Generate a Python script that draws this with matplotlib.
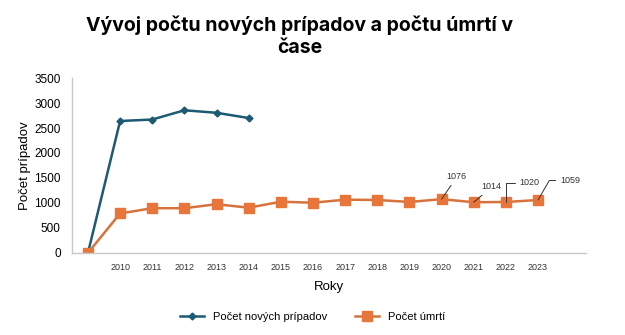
import matplotlib
matplotlib.use("Agg")
import matplotlib.pyplot as plt
import numpy as np

plt.rcParams['font.family'] = ['Liberation Sans', 'DejaVu Sans']

# categories (first and last slot are empty in the original chart)
years = ["", "2010", "2011", "2012", "2013", "2014", "2015", "2016", "2017",
         "2018", "2019", "2020", "2021", "2022", "2023", ""]
new_cases = [0, 2640, 2670, 2855, 2805, 2700]
deaths = [0, 790, 895, 895, 975, 905, 1025, 1005, 1066, 1060, 1020,
          1076, 1014, 1020, 1059]
# labelled points: index -> (text offset in points, leader style)
labelled = {11: ((11, 16), "arc3"),
            12: ((13, 11), "arc3"),
            13: ((17, 14), "angle,angleA=0,angleB=90,rad=0"),
            14: ((23, 14), "angle,angleA=0,angleB=60,rad=0")}

blue = "#1d5a73"
orange = "#e8763b"

fig = plt.figure(figsize=(6.25, 3.35), dpi=100)
ax = fig.add_axes([0.115, 0.245, 0.823, 0.522])

x = np.arange(len(years))
ax.plot(x[:len(new_cases)], new_cases, color=blue, marker="D", markersize=3.5,
        linewidth=1.8, label="Počet nových prípadov")
ax.plot(x[:len(deaths)], deaths, color="#d8723c", marker="s", markersize=6.5,
        markerfacecolor=orange, markeredgecolor=orange, linewidth=1.8,
        label="Počet úmrtí")

for i, (off, style) in labelled.items():
    ax.annotate(str(deaths[i]), xy=(x[i], deaths[i]), xytext=off,
                textcoords="offset points", fontsize=6.5, color="#333333",
                ha="center", va="center",
                arrowprops=dict(arrowstyle="-", color="#333333", lw=0.7,
                                shrinkA=1, shrinkB=0,
                                connectionstyle=style))

ax.set_xlim(-0.5, len(years) - 0.5)
ax.set_ylim(0, 3500)
ax.set_yticks(np.arange(0, 3501, 500))
ax.set_xticks(x)
ax.set_xticklabels(years, fontsize=6.5, color="#333333")
ax.tick_params(axis="y", labelsize=8.5, length=0, pad=8)
ax.tick_params(axis="x", length=0, pad=7)
for s in ["top", "right"]:
    ax.spines[s].set_visible(False)
for s in ["left", "bottom"]:
    ax.spines[s].set_color("#c8c8c8")
    ax.spines[s].set_linewidth(1)

ax.set_ylabel("Počet prípadov", fontsize=9.5, labelpad=2)
ax.set_xlabel("Roky", fontsize=9.5, labelpad=7)

fig.text(0.48, 0.955, "Vývoj počtu nových prípadov a počtu úmrtí v\nčase",
         ha="center", va="top", fontsize=14, fontweight="bold",
         family=["Inter", "DejaVu Sans"], linespacing=1.3)

fig.legend(loc="lower center", bbox_to_anchor=(0.5, 0.01), ncol=2,
           frameon=False, fontsize=8, handlelength=2.2, columnspacing=2.5)

fig.savefig("out.png", dpi=100, facecolor="white")
